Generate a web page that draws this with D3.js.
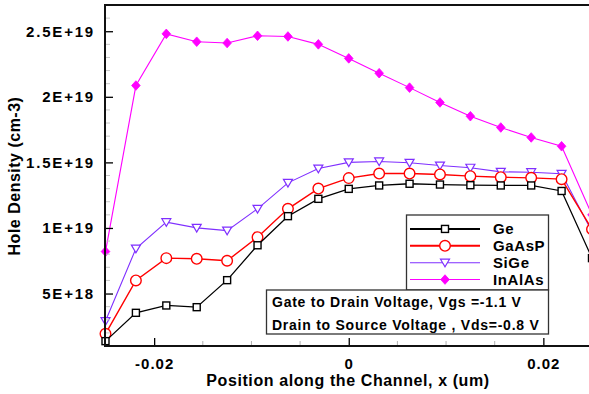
<!DOCTYPE html>
<html>
<head>
<meta charset="utf-8">
<script src="https://cdn.jsdelivr.net/npm/d3@7"></script>
<style>
  body { margin: 0; background: #fff; }
  svg { display: block; font-family: "Liberation Sans", Arial, sans-serif; font-weight: bold; }
</style>
</head>
<body>
<div id="canvas"></div>
<script>
// positions along channel (um)
var xPos = [-0.025, -0.021875, -0.01875, -0.015625, -0.0125, -0.009375, -0.00625, -0.003125,
            0, 0.003125, 0.00625, 0.009375, 0.0125, 0.015625, 0.01875, 0.021875, 0.025];

// hole density, units of 1E+19 cm-3
var ge     = [0.137, 0.353, 0.409, 0.396, 0.602, 0.868, 1.09, 1.222, 1.298, 1.324, 1.337, 1.331, 1.326, 1.324, 1.324, 1.282, 0.77];
var gaasp  = [0.193, 0.60, 0.77, 0.765, 0.75, 0.93, 1.146, 1.30, 1.38, 1.415, 1.415, 1.408, 1.395, 1.387, 1.382, 1.372, 0.99];
var sige   = [0.29, 0.843, 1.044, 1.001, 0.98, 1.146, 1.344, 1.453, 1.50, 1.507, 1.497, 1.476, 1.459, 1.428, 1.425, 1.413, 0.97];
var inalas = [0.82, 2.086, 2.48, 2.42, 2.41, 2.465, 2.46, 2.40, 2.293, 2.18, 2.07, 1.957, 1.852, 1.766, 1.69, 1.623, 1.1];

var seriesNames = ['Ge', 'GaAsP', 'SiGe', 'InAlAs'];

var xTicks = [-0.02, 0, 0.02],
    xTickLabels = ['-0.02', '0', '0.02'];
var yTicks = [0.5, 1, 1.5, 2, 2.5],
    yTickLabels = ['5E+18', '1E+19', '1.5E+19', '2E+19', '2.5E+19'];

var notes = ['Gate to Drain Voltage, Vgs =-1.1 V', 'Drain to Source Voltage , Vds=-0.8 V'];

var W = 589, H = 394;
var svg = d3.select('#canvas').append('svg')
    .attr('width', W).attr('height', H);

var x = d3.scaleLinear().domain([-0.025, 0.025]).range([105.5, 592]);
var y = d3.scaleLinear().domain([0.1, 2.7]).range([346, 5]);

// styles per series
var styles = [
  {data: ge,     color: '#000000', width: 1.3, marker: 'square'},
  {data: gaasp,  color: '#ff0000', width: 1.4, marker: 'circle'},
  {data: sige,   color: '#7f2fff', width: 1.1, marker: 'tri'},
  {data: inalas, color: '#ff00ff', width: 1.1, marker: 'diamond'}
];

function drawMarker(g, type, color) {
  if (type === 'square') {
    g.append('rect').attr('x', -3.5).attr('y', -3.5).attr('width', 7).attr('height', 7)
      .attr('fill', '#fff').attr('stroke', color).attr('stroke-width', 1.4);
  } else if (type === 'circle') {
    g.append('circle').attr('r', 5.3)
      .attr('fill', '#fff').attr('stroke', color).attr('stroke-width', 1.4);
  } else if (type === 'tri') {
    g.append('path').attr('d', 'M-4.5,-3.5L4.5,-3.5L0,4.2Z')
      .attr('fill', '#fff').attr('stroke', color).attr('stroke-width', 1.2);
  } else {
    g.append('path').attr('d', 'M0,-4.8L4.3,0L0,4.8L-4.3,0Z')
      .attr('fill', color).attr('stroke', color).attr('stroke-width', 0.8);
  }
}

svg.append('clipPath').attr('id', 'clip')
  .append('rect').attr('x', 105).attr('y', 5).attr('width', 490).attr('height', 341);

var line = d3.line()
  .x(function(d, i) { return x(xPos[i]); })
  .y(function(d) { return y(d); });

// draw back to front: InAlAs, SiGe, GaAsP, Ge
styles.slice().reverse().forEach(function(s) {
  svg.append('path')
    .datum(s.data)
    .attr('clip-path', 'url(#clip)')
    .attr('d', line)
    .attr('fill', 'none')
    .attr('stroke', s.color)
    .attr('stroke-width', s.width);

  svg.selectAll(null)
    .data(s.data)
    .enter()
    .append('g')
    .attr('transform', function(d, i) { return 'translate(' + x(xPos[i]) + ',' + y(d) + ')'; })
    .each(function() { drawMarker(d3.select(this), s.marker, s.color); });
});

// minor ticks
var xMinor = d3.range(-0.025, 0.0251, 0.005).filter(function(v) {
  return xTicks.every(function(t) { return Math.abs(t - v) > 1e-6; });
});
svg.selectAll('.xminor').data(xMinor).enter().append('line')
  .attr('x1', function(d) { return x(d); }).attr('x2', function(d) { return x(d); })
  .attr('y1', 346).attr('y2', 341)
  .attr('stroke', '#b0b0b0').attr('stroke-width', 1);

var yMinor = d3.range(0.2, 2.7, 0.1).filter(function(v) {
  return yTicks.every(function(t) { return Math.abs(t - v) > 1e-6; });
});
svg.selectAll('.yminor').data(yMinor).enter().append('line')
  .attr('x1', 105).attr('x2', 110)
  .attr('y1', function(d) { return y(d); }).attr('y2', function(d) { return y(d); })
  .attr('stroke', '#c8c8c8').attr('stroke-width', 1);

// axes
var xAxis = d3.axisBottom(x).tickValues(xTicks).tickSize(-8).tickPadding(12)
  .tickFormat(function(d, i) { return xTickLabels[i]; });
var gx = svg.append('g').attr('transform', 'translate(0,346)').call(xAxis);
gx.select('.domain').remove();
gx.selectAll('.tick line').attr('stroke', '#000').attr('stroke-width', 1.3);
gx.selectAll('.tick text').attr('font-size', 15).attr('font-family', 'Liberation Sans, Arial, sans-serif')
  .attr('font-weight', 'bold').attr('fill', '#000').attr('letter-spacing', '1px');

var yAxis = d3.axisLeft(y).tickValues(yTicks).tickSize(-8).tickPadding(10)
  .tickFormat(function(d, i) { return yTickLabels[i]; });
var gy = svg.append('g').attr('transform', 'translate(105,0)').call(yAxis);
gy.select('.domain').remove();
gy.selectAll('.tick line').attr('stroke', '#000').attr('stroke-width', 1.3);
gy.selectAll('.tick text').attr('font-size', 15).attr('font-family', 'Liberation Sans, Arial, sans-serif')
  .attr('font-weight', 'bold').attr('fill', '#000').attr('letter-spacing', '1.8px');

// frame
svg.append('line').attr('x1', 104).attr('x2', 589).attr('y1', 5).attr('y2', 5)
  .attr('stroke', '#111').attr('stroke-width', 2);
svg.append('line').attr('x1', 105).attr('x2', 105).attr('y1', 4).attr('y2', 347)
  .attr('stroke', '#111').attr('stroke-width', 2);
svg.append('line').attr('x1', 104).attr('x2', 589).attr('y1', 346).attr('y2', 346)
  .attr('stroke', '#111').attr('stroke-width', 2.2);

// axis titles
svg.append('text').attr('x', 348).attr('y', 386).attr('text-anchor', 'middle')
  .attr('font-size', 16).attr('letter-spacing', '0.6px').text('Position along the Channel, x (um)');
svg.append('text').attr('transform', 'translate(20,176) rotate(-90)').attr('text-anchor', 'middle')
  .attr('font-size', 16).attr('letter-spacing', '0.5px').text('Hole Density (cm-3)');

// legend
var leg = svg.append('g');
leg.append('rect').attr('x', 406.5).attr('y', 215).attr('width', 142).attr('height', 75)
  .attr('fill', '#fff').attr('stroke', '#333').attr('stroke-width', 1.3);
var legY = d3.scaleBand().domain(seriesNames).range([221.5, 289]);
seriesNames.forEach(function(n, i) {
  var s = styles[i], cy = legY(n) + legY.bandwidth() / 2 - 1;
  leg.append('line').attr('x1', 410).attr('x2', 480).attr('y1', cy).attr('y2', cy)
    .attr('stroke', s.color).attr('stroke-width', i < 2 ? 2 : 1.1);
  drawMarker(leg.append('g').attr('transform', 'translate(445,' + cy + ')'), s.marker, s.color);
  leg.append('text').attr('x', 493).attr('y', cy + 5.5).attr('font-size', 15)
    .attr('letter-spacing', '0.6px').text(n);
});

// conditions box
var nb = svg.append('g');
nb.append('rect').attr('x', 266.5).attr('y', 290).attr('width', 282).attr('height', 44)
  .attr('fill', '#fff').attr('stroke', '#333').attr('stroke-width', 1.3);
notes.forEach(function(t, i) {
  nb.append('text').attr('x', 272).attr('y', 306.5 + i * 23).attr('font-size', 14)
    .attr('letter-spacing', '0.75px').text(t);
});
</script>
</body>
</html>
